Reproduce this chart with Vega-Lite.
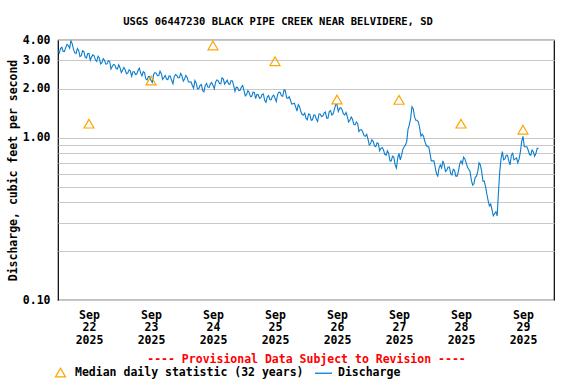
{
  "$schema": "https://vega.github.io/schema/vega-lite/v6.json",
  "width": 496,
  "height": 260,
  "autosize": {"type": "none"},
  "padding": {"left": 58, "top": 40, "right": 22, "bottom": 84},
  "background": "white",
  "config": {
    "font": "DejaVu Sans Mono",
    "view": {"stroke": "#000000", "strokeWidth": 1.2},
    "axis": {"labelFont": "DejaVu Sans Mono", "titleFont": "DejaVu Sans Mono", "labelFontWeight": "bold", "titleFontWeight": "bold", "labelColor": "#000", "titleColor": "#000", "labelFontSize": 11.5, "titleFontSize": 11.5, "gridColor": "#c8c8c8", "gridWidth": 1, "gridOpacity": 1, "domain": false, "ticks": false},
    "legend": {"labelFont": "DejaVu Sans Mono", "labelFontWeight": "bold", "labelFontSize": 11.5, "labelColor": "#000", "labelLimit": 0}
  },
  "title": {
    "text": "USGS 06447230 BLACK PIPE CREEK NEAR BELVIDERE, SD",
    "font": "DejaVu Sans Mono",
    "fontWeight": "bold",
    "fontSize": 10.5,
    "color": "#000",
    "anchor": "middle",
    "baseline": "alphabetic",
    "offset": 16,
    "dx": -28,
    "dy": 17
  },
  "datasets": {
    "flow": [
      {"t":"2025-09-22T00:00","v":3.45},{"t":"2025-09-22T00:30","v":3.33},{"t":"2025-09-22T01:00","v":3.55},{"t":"2025-09-22T01:30","v":3.61},{"t":"2025-09-22T02:00","v":3.4},{"t":"2025-09-22T02:30","v":3.40},{"t":"2025-09-22T03:00","v":3.6},{"t":"2025-09-22T03:30","v":3.76},{"t":"2025-09-22T04:00","v":3.7},{"t":"2025-09-22T04:30","v":3.56},{"t":"2025-09-22T05:00","v":3.95},{"t":"2025-09-22T05:30","v":3.80},{"t":"2025-09-22T06:00","v":3.5},{"t":"2025-09-22T06:30","v":3.33},{"t":"2025-09-22T07:00","v":3.3},{"t":"2025-09-22T07:30","v":3.54},{"t":"2025-09-22T08:00","v":3.45},{"t":"2025-09-22T08:30","v":3.16},{"t":"2025-09-22T09:00","v":3.2},{"t":"2025-09-22T09:30","v":3.43},{"t":"2025-09-22T10:00","v":3.4},{"t":"2025-09-22T10:30","v":3.15},{"t":"2025-09-22T11:00","v":3.1},{"t":"2025-09-22T11:30","v":3.30},{"t":"2025-09-22T12:00","v":3.3},{"t":"2025-09-22T12:30","v":3.00},{"t":"2025-09-22T13:00","v":3.15},{"t":"2025-09-22T13:30","v":3.24},{"t":"2025-09-22T14:00","v":3.2},{"t":"2025-09-22T14:30","v":3.01},{"t":"2025-09-22T15:00","v":2.95},{"t":"2025-09-22T15:30","v":3.18},{"t":"2025-09-22T16:00","v":3.1},{"t":"2025-09-22T16:30","v":2.85},{"t":"2025-09-22T17:00","v":2.9},{"t":"2025-09-22T17:30","v":3.07},{"t":"2025-09-22T18:00","v":3.0},{"t":"2025-09-22T18:30","v":2.84},{"t":"2025-09-22T19:00","v":2.85},{"t":"2025-09-22T19:30","v":2.99},{"t":"2025-09-22T20:00","v":2.95},{"t":"2025-09-22T20:30","v":2.65},{"t":"2025-09-22T21:00","v":2.75},{"t":"2025-09-22T21:30","v":2.83},{"t":"2025-09-22T22:00","v":2.8},{"t":"2025-09-22T22:30","v":2.67},{"t":"2025-09-22T23:00","v":2.65},{"t":"2025-09-22T23:30","v":2.81},
      {"t":"2025-09-23T00:00","v":2.7},{"t":"2025-09-23T00:30","v":2.52},{"t":"2025-09-23T01:00","v":2.6},{"t":"2025-09-23T01:30","v":2.71},{"t":"2025-09-23T02:00","v":2.62},{"t":"2025-09-23T02:30","v":2.48},{"t":"2025-09-23T03:00","v":2.5},{"t":"2025-09-23T03:30","v":2.62},{"t":"2025-09-23T04:00","v":2.58},{"t":"2025-09-23T04:30","v":2.39},{"t":"2025-09-23T05:00","v":2.55},{"t":"2025-09-23T05:30","v":2.55},{"t":"2025-09-23T06:00","v":2.45},{"t":"2025-09-23T06:30","v":2.47},{"t":"2025-09-23T07:00","v":2.6},{"t":"2025-09-23T07:30","v":2.68},{"t":"2025-09-23T08:00","v":2.5},{"t":"2025-09-23T08:30","v":2.40},{"t":"2025-09-23T09:00","v":2.55},{"t":"2025-09-23T09:30","v":2.52},{"t":"2025-09-23T10:00","v":2.3},{"t":"2025-09-23T10:30","v":2.27},{"t":"2025-09-23T11:00","v":2.38},{"t":"2025-09-23T11:30","v":2.38},{"t":"2025-09-23T12:00","v":2.25},{"t":"2025-09-23T12:30","v":2.19},{"t":"2025-09-23T13:00","v":2.45},{"t":"2025-09-23T13:30","v":2.52},{"t":"2025-09-23T14:00","v":2.5},{"t":"2025-09-23T14:30","v":2.41},{"t":"2025-09-23T15:00","v":2.42},{"t":"2025-09-23T15:30","v":2.57},{"t":"2025-09-23T16:00","v":2.48},{"t":"2025-09-23T16:30","v":2.29},{"t":"2025-09-23T17:00","v":2.35},{"t":"2025-09-23T17:30","v":2.42},{"t":"2025-09-23T18:00","v":2.3},{"t":"2025-09-23T18:30","v":2.28},{"t":"2025-09-23T19:00","v":2.4},{"t":"2025-09-23T19:30","v":2.39},{"t":"2025-09-23T20:00","v":2.25},{"t":"2025-09-23T20:30","v":2.15},{"t":"2025-09-23T21:00","v":2.38},{"t":"2025-09-23T21:30","v":2.45},{"t":"2025-09-23T22:00","v":2.42},{"t":"2025-09-23T22:30","v":2.34},{"t":"2025-09-23T23:00","v":2.35},{"t":"2025-09-23T23:30","v":2.49},
      {"t":"2025-09-24T00:00","v":2.4},{"t":"2025-09-24T00:30","v":2.23},{"t":"2025-09-24T01:00","v":2.3},{"t":"2025-09-24T01:30","v":2.42},{"t":"2025-09-24T02:00","v":2.35},{"t":"2025-09-24T02:30","v":2.21},{"t":"2025-09-24T03:00","v":2.2},{"t":"2025-09-24T03:30","v":2.21},{"t":"2025-09-24T04:00","v":2.1},{"t":"2025-09-24T04:30","v":2.02},{"t":"2025-09-24T05:00","v":2.25},{"t":"2025-09-24T05:30","v":2.17},{"t":"2025-09-24T06:00","v":2.0},{"t":"2025-09-24T06:30","v":2.01},{"t":"2025-09-24T07:00","v":2.1},{"t":"2025-09-24T07:30","v":2.13},{"t":"2025-09-24T08:00","v":1.95},{"t":"2025-09-24T08:30","v":1.92},{"t":"2025-09-24T09:00","v":2.1},{"t":"2025-09-24T09:30","v":2.16},{"t":"2025-09-24T10:00","v":2.05},{"t":"2025-09-24T10:30","v":2.04},{"t":"2025-09-24T11:00","v":2.15},{"t":"2025-09-24T11:30","v":2.19},{"t":"2025-09-24T12:00","v":2.1},{"t":"2025-09-24T12:30","v":2.00},{"t":"2025-09-24T13:00","v":2.2},{"t":"2025-09-24T13:30","v":2.27},{"t":"2025-09-24T14:00","v":2.25},{"t":"2025-09-24T14:30","v":2.16},{"t":"2025-09-24T15:00","v":2.15},{"t":"2025-09-24T15:30","v":2.34},{"t":"2025-09-24T16:00","v":2.3},{"t":"2025-09-24T16:30","v":2.14},{"t":"2025-09-24T17:00","v":2.2},{"t":"2025-09-24T17:30","v":2.26},{"t":"2025-09-24T18:00","v":2.15},{"t":"2025-09-24T18:30","v":2.13},{"t":"2025-09-24T19:00","v":2.25},{"t":"2025-09-24T19:30","v":2.24},{"t":"2025-09-24T20:00","v":2.1},{"t":"2025-09-24T20:30","v":1.93},{"t":"2025-09-24T21:00","v":2.05},{"t":"2025-09-24T21:30","v":2.04},{"t":"2025-09-24T22:00","v":1.95},{"t":"2025-09-24T22:30","v":1.96},{"t":"2025-09-24T23:00","v":2.05},{"t":"2025-09-24T23:30","v":2.10},
      {"t":"2025-09-25T00:00","v":1.95},{"t":"2025-09-25T00:30","v":1.81},{"t":"2025-09-25T01:00","v":1.85},{"t":"2025-09-25T01:30","v":1.95},{"t":"2025-09-25T02:00","v":1.9},{"t":"2025-09-25T02:30","v":1.79},{"t":"2025-09-25T03:00","v":1.8},{"t":"2025-09-25T03:30","v":1.91},{"t":"2025-09-25T04:00","v":1.9},{"t":"2025-09-25T04:30","v":1.74},{"t":"2025-09-25T05:00","v":1.85},{"t":"2025-09-25T05:30","v":1.84},{"t":"2025-09-25T06:00","v":1.75},{"t":"2025-09-25T06:30","v":1.76},{"t":"2025-09-25T07:00","v":1.85},{"t":"2025-09-25T07:30","v":1.86},{"t":"2025-09-25T08:00","v":1.7},{"t":"2025-09-25T08:30","v":1.65},{"t":"2025-09-25T09:00","v":1.78},{"t":"2025-09-25T09:30","v":1.82},{"t":"2025-09-25T10:00","v":1.72},{"t":"2025-09-25T10:30","v":1.71},{"t":"2025-09-25T11:00","v":1.8},{"t":"2025-09-25T11:30","v":1.83},{"t":"2025-09-25T12:00","v":1.75},{"t":"2025-09-25T12:30","v":1.67},{"t":"2025-09-25T13:00","v":1.85},{"t":"2025-09-25T13:30","v":1.91},{"t":"2025-09-25T14:00","v":1.9},{"t":"2025-09-25T14:30","v":1.81},{"t":"2025-09-25T15:00","v":1.8},{"t":"2025-09-25T15:30","v":1.97},{"t":"2025-09-25T16:00","v":1.95},{"t":"2025-09-25T16:30","v":1.76},{"t":"2025-09-25T17:00","v":1.75},{"t":"2025-09-25T17:30","v":1.79},{"t":"2025-09-25T18:00","v":1.7},{"t":"2025-09-25T18:30","v":1.61},{"t":"2025-09-25T19:00","v":1.62},{"t":"2025-09-25T19:30","v":1.63},{"t":"2025-09-25T20:00","v":1.55},{"t":"2025-09-25T20:30","v":1.46},{"t":"2025-09-25T21:00","v":1.6},{"t":"2025-09-25T21:30","v":1.56},{"t":"2025-09-25T22:00","v":1.45},{"t":"2025-09-25T22:30","v":1.39},{"t":"2025-09-25T23:00","v":1.38},{"t":"2025-09-25T23:30","v":1.42},
      {"t":"2025-09-26T00:00","v":1.32},{"t":"2025-09-26T00:30","v":1.29},{"t":"2025-09-26T01:00","v":1.4},{"t":"2025-09-26T01:30","v":1.39},{"t":"2025-09-26T02:00","v":1.28},{"t":"2025-09-26T02:30","v":1.29},{"t":"2025-09-26T03:00","v":1.38},{"t":"2025-09-26T03:30","v":1.38},{"t":"2025-09-26T04:00","v":1.3},{"t":"2025-09-26T04:30","v":1.26},{"t":"2025-09-26T05:00","v":1.4},{"t":"2025-09-26T05:30","v":1.40},{"t":"2025-09-26T06:00","v":1.35},{"t":"2025-09-26T06:30","v":1.36},{"t":"2025-09-26T07:00","v":1.42},{"t":"2025-09-26T07:30","v":1.44},{"t":"2025-09-26T08:00","v":1.32},{"t":"2025-09-26T08:30","v":1.32},{"t":"2025-09-26T09:00","v":1.45},{"t":"2025-09-26T09:30","v":1.47},{"t":"2025-09-26T10:00","v":1.38},{"t":"2025-09-26T10:30","v":1.40},{"t":"2025-09-26T11:00","v":1.5},{"t":"2025-09-26T11:30","v":1.60},{"t":"2025-09-26T12:00","v":1.6},{"t":"2025-09-26T12:30","v":1.45},{"t":"2025-09-26T13:00","v":1.52},{"t":"2025-09-26T13:30","v":1.53},{"t":"2025-09-26T14:00","v":1.48},{"t":"2025-09-26T14:30","v":1.40},{"t":"2025-09-26T15:00","v":1.38},{"t":"2025-09-26T15:30","v":1.43},{"t":"2025-09-26T16:00","v":1.35},{"t":"2025-09-26T16:30","v":1.25},{"t":"2025-09-26T17:00","v":1.28},{"t":"2025-09-26T17:30","v":1.34},{"t":"2025-09-26T18:00","v":1.3},{"t":"2025-09-26T18:30","v":1.21},{"t":"2025-09-26T19:00","v":1.2},{"t":"2025-09-26T19:30","v":1.25},{"t":"2025-09-26T20:00","v":1.22},{"t":"2025-09-26T20:30","v":1.09},{"t":"2025-09-26T21:00","v":1.12},{"t":"2025-09-26T21:30","v":1.12},{"t":"2025-09-26T22:00","v":1.08},{"t":"2025-09-26T22:30","v":1.03},{"t":"2025-09-26T23:00","v":1.02},{"t":"2025-09-26T23:30","v":1.05},
      {"t":"2025-09-27T00:00","v":0.98},{"t":"2025-09-27T00:30","v":0.90},{"t":"2025-09-27T01:00","v":0.92},{"t":"2025-09-27T01:30","v":0.97},{"t":"2025-09-27T02:00","v":0.95},{"t":"2025-09-27T02:30","v":0.89},{"t":"2025-09-27T03:00","v":0.88},{"t":"2025-09-27T03:30","v":0.93},{"t":"2025-09-27T04:00","v":0.92},{"t":"2025-09-27T04:30","v":0.83},{"t":"2025-09-27T05:00","v":0.86},{"t":"2025-09-27T05:30","v":0.87},{"t":"2025-09-27T06:00","v":0.84},{"t":"2025-09-27T06:30","v":0.79},{"t":"2025-09-27T07:00","v":0.78},{"t":"2025-09-27T07:30","v":0.83},{"t":"2025-09-27T08:00","v":0.8},{"t":"2025-09-27T08:30","v":0.72},{"t":"2025-09-27T09:00","v":0.72},{"t":"2025-09-27T09:30","v":0.77},{"t":"2025-09-27T10:00","v":0.76},{"t":"2025-09-27T10:30","v":0.68},{"t":"2025-09-27T11:00","v":0.65},{"t":"2025-09-27T11:30","v":0.75},{"t":"2025-09-27T12:00","v":0.8},{"t":"2025-09-27T12:30","v":0.73},{"t":"2025-09-27T13:00","v":0.78},{"t":"2025-09-27T13:30","v":0.85},{"t":"2025-09-27T14:00","v":0.88},{"t":"2025-09-27T14:30","v":0.90},{"t":"2025-09-27T15:00","v":0.95},{"t":"2025-09-27T15:30","v":1.13},{"t":"2025-09-27T16:00","v":1.2},{"t":"2025-09-27T16:30","v":1.31},{"t":"2025-09-27T17:00","v":1.55},{"t":"2025-09-27T17:30","v":1.51},{"t":"2025-09-27T18:00","v":1.35},{"t":"2025-09-27T18:30","v":1.28},{"t":"2025-09-27T19:00","v":1.28},{"t":"2025-09-27T19:30","v":1.25},{"t":"2025-09-27T20:00","v":1.15},{"t":"2025-09-27T20:30","v":1.02},{"t":"2025-09-27T21:00","v":1.05},{"t":"2025-09-27T21:30","v":1.02},{"t":"2025-09-27T22:00","v":0.95},{"t":"2025-09-27T22:30","v":0.90},{"t":"2025-09-27T23:00","v":0.88},{"t":"2025-09-27T23:30","v":0.88},
      {"t":"2025-09-28T00:00","v":0.8},{"t":"2025-09-28T00:30","v":0.72},{"t":"2025-09-28T01:00","v":0.72},{"t":"2025-09-28T01:30","v":0.72},{"t":"2025-09-28T02:00","v":0.66},{"t":"2025-09-28T02:30","v":0.60},{"t":"2025-09-28T03:00","v":0.58},{"t":"2025-09-28T03:30","v":0.65},{"t":"2025-09-28T04:00","v":0.68},{"t":"2025-09-28T04:30","v":0.65},{"t":"2025-09-28T05:00","v":0.72},{"t":"2025-09-28T05:30","v":0.68},{"t":"2025-09-28T06:00","v":0.62},{"t":"2025-09-28T06:30","v":0.63},{"t":"2025-09-28T07:00","v":0.66},{"t":"2025-09-28T07:30","v":0.66},{"t":"2025-09-28T08:00","v":0.6},{"t":"2025-09-28T08:30","v":0.59},{"t":"2025-09-28T09:00","v":0.64},{"t":"2025-09-28T09:30","v":0.63},{"t":"2025-09-28T10:00","v":0.58},{"t":"2025-09-28T10:30","v":0.58},{"t":"2025-09-28T11:00","v":0.62},{"t":"2025-09-28T11:30","v":0.69},{"t":"2025-09-28T12:00","v":0.72},{"t":"2025-09-28T12:30","v":0.69},{"t":"2025-09-28T13:00","v":0.76},{"t":"2025-09-28T13:30","v":0.74},{"t":"2025-09-28T14:00","v":0.7},{"t":"2025-09-28T14:30","v":0.66},{"t":"2025-09-28T15:00","v":0.64},{"t":"2025-09-28T15:30","v":0.62},{"t":"2025-09-28T16:00","v":0.55},{"t":"2025-09-28T16:30","v":0.51},{"t":"2025-09-28T17:00","v":0.52},{"t":"2025-09-28T17:30","v":0.57},{"t":"2025-09-28T18:00","v":0.58},{"t":"2025-09-28T18:30","v":0.62},{"t":"2025-09-28T19:00","v":0.7},{"t":"2025-09-28T19:30","v":0.68},{"t":"2025-09-28T20:00","v":0.62},{"t":"2025-09-28T20:30","v":0.54},{"t":"2025-09-28T21:00","v":0.54},{"t":"2025-09-28T21:30","v":0.50},{"t":"2025-09-28T22:00","v":0.45},{"t":"2025-09-28T22:30","v":0.41},{"t":"2025-09-28T23:00","v":0.38},{"t":"2025-09-28T23:30","v":0.39},
      {"t":"2025-09-29T00:00","v":0.36},{"t":"2025-09-29T00:30","v":0.33},{"t":"2025-09-29T01:00","v":0.34},{"t":"2025-09-29T01:30","v":0.35},{"t":"2025-09-29T02:00","v":0.33},{"t":"2025-09-29T02:30","v":0.46},{"t":"2025-09-29T03:00","v":0.62},{"t":"2025-09-29T03:30","v":0.74},{"t":"2025-09-29T04:00","v":0.82},{"t":"2025-09-29T04:30","v":0.73},{"t":"2025-09-29T05:00","v":0.74},{"t":"2025-09-29T05:30","v":0.78},{"t":"2025-09-29T06:00","v":0.78},{"t":"2025-09-29T06:30","v":0.72},{"t":"2025-09-29T07:00","v":0.68},{"t":"2025-09-29T07:30","v":0.78},{"t":"2025-09-29T08:00","v":0.8},{"t":"2025-09-29T08:30","v":0.73},{"t":"2025-09-29T09:00","v":0.74},{"t":"2025-09-29T09:30","v":0.75},{"t":"2025-09-29T10:00","v":0.7},{"t":"2025-09-29T10:30","v":0.74},{"t":"2025-09-29T11:00","v":0.82},{"t":"2025-09-29T11:30","v":0.95},{"t":"2025-09-29T12:00","v":1.02},{"t":"2025-09-29T12:30","v":0.88},{"t":"2025-09-29T13:00","v":0.88},{"t":"2025-09-29T13:30","v":0.88},{"t":"2025-09-29T14:00","v":0.84},{"t":"2025-09-29T14:30","v":0.79},{"t":"2025-09-29T15:00","v":0.78},{"t":"2025-09-29T15:30","v":0.84},{"t":"2025-09-29T16:00","v":0.82},{"t":"2025-09-29T16:30","v":0.77},{"t":"2025-09-29T17:00","v":0.8},{"t":"2025-09-29T17:30","v":0.86},{"t":"2025-09-29T18:00","v":0.86}
    ],
    "median": [
      {"t":"2025-09-22T12:00","m":1.22},
      {"t":"2025-09-23T12:00","m":2.25},
      {"t":"2025-09-24T12:00","m":3.7},
      {"t":"2025-09-25T12:00","m":2.96},
      {"t":"2025-09-26T12:00","m":1.72},
      {"t":"2025-09-27T12:00","m":1.71},
      {"t":"2025-09-28T12:00","m":1.22},
      {"t":"2025-09-29T12:00","m":1.12}
    ]
  },
  "layer": [
    {
      "data": {"name": "flow"},
      "mark": {"type": "line", "strokeWidth": 1.1, "clip": true},
      "encoding": {
        "x": {
          "field": "t", "type": "temporal",
          "scale": {"domain": [{"year":2025,"month":9,"date":22},{"year":2025,"month":9,"date":30}], "nice": false},
          "axis": {
            "title": "---- Provisional Data Subject to Revision ----",
            "titleColor": "#ff0000",
            "titleY": 62,
            "titleBaseline": "alphabetic",
            "values": [
              {"year":2025,"month":9,"date":22,"hours":12},
              {"year":2025,"month":9,"date":23},
              {"year":2025,"month":9,"date":23,"hours":12},
              {"year":2025,"month":9,"date":24},
              {"year":2025,"month":9,"date":24,"hours":12},
              {"year":2025,"month":9,"date":25},
              {"year":2025,"month":9,"date":25,"hours":12},
              {"year":2025,"month":9,"date":26},
              {"year":2025,"month":9,"date":26,"hours":12},
              {"year":2025,"month":9,"date":27},
              {"year":2025,"month":9,"date":27,"hours":12},
              {"year":2025,"month":9,"date":28},
              {"year":2025,"month":9,"date":28,"hours":12},
              {"year":2025,"month":9,"date":29},
              {"year":2025,"month":9,"date":29,"hours":12}
            ],
            "labelExpr": "hours(datum.value) == 12 ? [timeFormat(datum.value, '%b'), timeFormat(datum.value, '%d'), timeFormat(datum.value, '%Y')] : ''",
            "labelLineHeight": 12.5,
            "labelPadding": 9,
            "labelAngle": 0,
            "labelOverlap": false,
            "gridOpacity": {"condition": {"test": "hours(datum.value) == 0", "value": 1}, "value": 0}
          }
        },
        "y": {
          "field": "v", "type": "quantitative",
          "scale": {"type": "log", "domain": [0.1, 4], "nice": false},
          "axis": {
            "title": "Discharge, cubic feet per second",
            "titleX": -45,
            "titleY": 130,
            "titleAngle": -90,
            "titleAlign": "center",
            "titleBaseline": "middle",
            "values": [0.1, 0.2, 0.3, 0.4, 0.5, 0.6, 0.7, 0.8, 0.9, 1, 2, 3, 4],
            "labelExpr": "(datum.value < 0.15 || datum.value > 0.95) ? format(datum.value, '.2f') : ''",
            "labelPadding": 8,
            "labelOverlap": false
          }
        },
        "color": {
          "datum": "Discharge",
          "scale": {"domain": ["Median daily statistic (32 years)", "Discharge"], "range": ["#ffa500", "#0a7dcc"]},
          "legend": {
            "title": null,
            "orient": "none",
            "direction": "horizontal",
            "legendX": -3.5,
            "legendY": 326.5,
            "padding": 0,
            "symbolSize": 289,
            "labelOffset": 8.5,
            "columnPadding": 8,
            "labelLimit": 0,
            "encode": {
              "symbols": {
                "update": {
                  "shape": {"signal": "datum.value === 'Discharge' ? 'stroke' : 'triangle-up'"},
                  "size": {"signal": "datum.value === 'Discharge' ? 289 : 100"},
                  "strokeWidth": {"value": 1.3},
                  "fill": {"value": "transparent"}
                }
              }
            }
          }
        }
      }
    },
    {
      "data": {"name": "median"},
      "mark": {"type": "point", "shape": "triangle-up", "filled": false, "size": 100, "strokeWidth": 1.2, "opacity": 1},
      "encoding": {
        "x": {"field": "t", "type": "temporal"},
        "y": {"field": "m", "type": "quantitative"},
        "color": {"datum": "Median daily statistic (32 years)"}
      }
    }
  ]
}
